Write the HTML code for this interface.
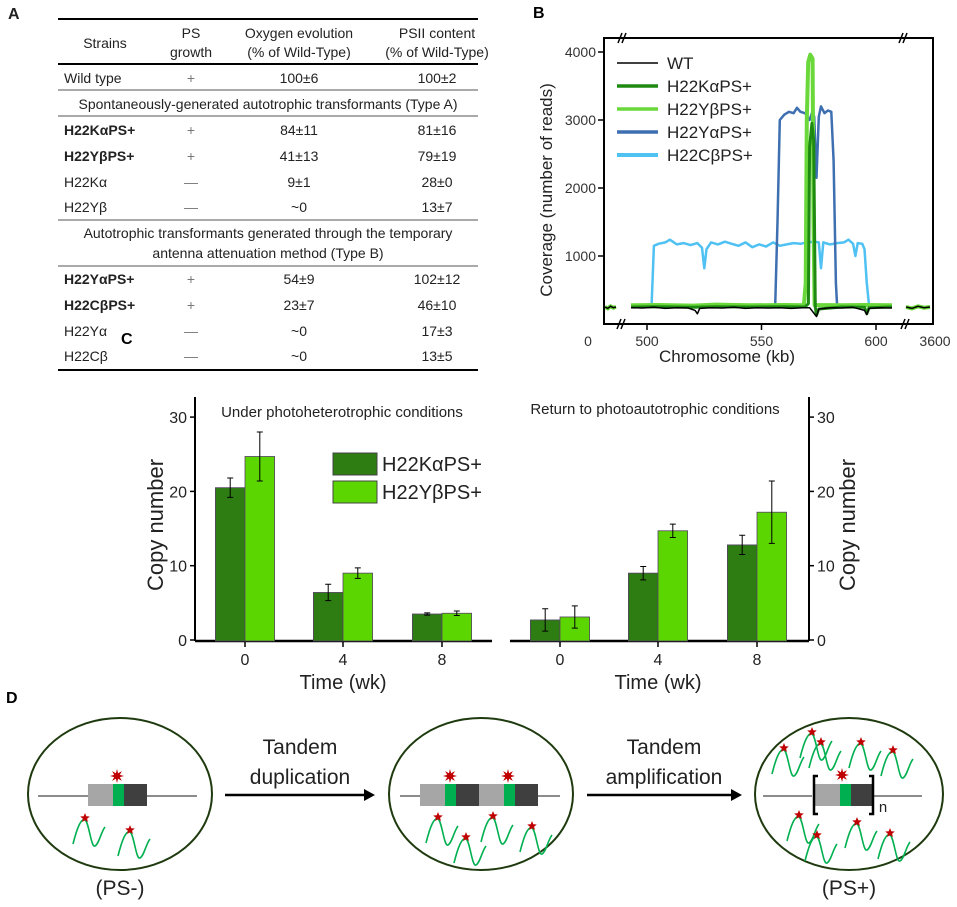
<!DOCTYPE html>
<html><head><meta charset="utf-8">
<style>
body{margin:0;background:#fff;}
svg text{font-family:"Liberation Sans","DejaVu Sans",sans-serif;}
</style></head>
<body>
<svg width="957" height="902" viewBox="0 0 957 902" xmlns="http://www.w3.org/2000/svg">
<!-- Panel A -->
<g id="panelA" font-size="14" fill="#222">
<text x="8" y="19" font-size="16" font-weight="bold">A</text>
<line x1="58" y1="19" x2="478" y2="19" stroke="#000" stroke-width="2"/>
<line x1="58" y1="64" x2="478" y2="64" stroke="#000" stroke-width="2"/>
<line x1="58" y1="90" x2="478" y2="90" stroke="#555" stroke-width="1"/>
<line x1="58" y1="116" x2="478" y2="116" stroke="#555" stroke-width="1"/>
<line x1="58" y1="220" x2="478" y2="220" stroke="#555" stroke-width="1"/>
<line x1="58" y1="266" x2="478" y2="266" stroke="#555" stroke-width="1"/>
<line x1="58" y1="370" x2="478" y2="370" stroke="#000" stroke-width="2"/>
<g text-anchor="middle">
<text x="105" y="48">Strains</text>
<text x="191" y="38">PS</text><text x="191" y="57">growth</text>
<text x="299" y="38">Oxygen evolution</text><text x="299" y="57">(% of Wild-Type)</text>
<text x="437" y="38">PSII content</text><text x="437" y="57">(% of Wild-Type)</text>
</g>
<g>
<text x="64" y="83">Wild type</text><text x="191" y="83" text-anchor="middle" fill="#777">+</text><text x="299" y="83" text-anchor="middle">100±6</text><text x="437" y="83" text-anchor="middle">100±2</text>
<text x="268" y="109" text-anchor="middle">Spontaneously-generated  autotrophic transformants (Type A)</text>
<text x="64" y="135" font-weight="bold">H22KαPS+</text><text x="191" y="135" text-anchor="middle" fill="#777">+</text><text x="299" y="135" text-anchor="middle">84±11</text><text x="437" y="135" text-anchor="middle">81±16</text>
<text x="64" y="161" font-weight="bold">H22YβPS+</text><text x="191" y="161" text-anchor="middle" fill="#777">+</text><text x="299" y="161" text-anchor="middle">41±13</text><text x="437" y="161" text-anchor="middle">79±19</text>
<text x="64" y="187">H22Kα</text><text x="191" y="187" text-anchor="middle" fill="#777">—</text><text x="299" y="187" text-anchor="middle">9±1</text><text x="437" y="187" text-anchor="middle">28±0</text>
<text x="64" y="212">H22Yβ</text><text x="191" y="212" text-anchor="middle" fill="#777">—</text><text x="299" y="212" text-anchor="middle">~0</text><text x="437" y="212" text-anchor="middle">13±7</text>
<text x="268" y="238" text-anchor="middle">Autotrophic transformants generated through the temporary</text>
<text x="268" y="258" text-anchor="middle">antenna attenuation method (Type B)</text>
<text x="64" y="284" font-weight="bold">H22YαPS+</text><text x="191" y="284" text-anchor="middle" fill="#777">+</text><text x="299" y="284" text-anchor="middle">54±9</text><text x="437" y="284" text-anchor="middle">102±12</text>
<text x="64" y="310" font-weight="bold">H22CβPS+</text><text x="191" y="310" text-anchor="middle" fill="#777">+</text><text x="299" y="310" text-anchor="middle">23±7</text><text x="437" y="310" text-anchor="middle">46±10</text>
<text x="64" y="336">H22Yα</text><text x="191" y="336" text-anchor="middle" fill="#777">—</text><text x="299" y="336" text-anchor="middle">~0</text><text x="437" y="336" text-anchor="middle">17±3</text>
<text x="64" y="361">H22Cβ</text><text x="191" y="361" text-anchor="middle" fill="#777">—</text><text x="299" y="361" text-anchor="middle">~0</text><text x="437" y="361" text-anchor="middle">13±5</text>
</g>
</g>

<!-- Panel B -->
<g id="panelB">
<text x="533" y="18" font-size="16" font-weight="bold">B</text>
<g id="bPlot"></g>
<rect x="604" y="38" width="329" height="286" fill="none" stroke="#000" stroke-width="2"/>
<g stroke="#000" stroke-width="1.5" fill="none">
<line x1="618" y1="43" x2="622" y2="33"/><line x1="622" y1="43" x2="626" y2="33"/>
<line x1="899" y1="43" x2="903" y2="33"/><line x1="903" y1="43" x2="907" y2="33"/>
<line x1="617" y1="329" x2="621" y2="319"/><line x1="621" y1="329" x2="625" y2="319"/>
<line x1="901" y1="329" x2="905" y2="319"/><line x1="905" y1="329" x2="909" y2="319"/>
</g>
<g id="bAxes" font-size="14" fill="#333"></g>
<text x="727" y="362" font-size="17" text-anchor="middle" fill="#222">Chromosome (kb)</text>
<text transform="translate(552,190) rotate(-90)" font-size="17" text-anchor="middle" fill="#222">Coverage (number of reads)</text>
<g id="bLegend" font-size="17" fill="#222"></g>
</g>

<!-- Panel C -->
<g id="panelC">
<text x="121" y="344" font-size="16" font-weight="bold">C</text>
<g id="cPlot"></g>
<text x="342" y="417" font-size="15" text-anchor="middle" fill="#222">Under photoheterotrophic conditions</text>
<text x="655" y="414" font-size="15" text-anchor="middle" fill="#222">Return to photoautotrophic conditions</text>
<text transform="translate(163,525) rotate(-90)" font-size="22" text-anchor="middle" fill="#222">Copy number</text>
<text transform="translate(855,525) rotate(-90)" font-size="22" text-anchor="middle" fill="#222">Copy number</text>
<text x="343" y="689" font-size="20" text-anchor="middle" fill="#222">Time (wk)</text>
<text x="658" y="689" font-size="20" text-anchor="middle" fill="#222">Time (wk)</text>
<g>
<rect x="333" y="453" width="44" height="22" fill="#2e7d12" stroke="#444"/>
<text x="382" y="471" font-size="20" fill="#222">H22KαPS+</text>
<rect x="333" y="481" width="44" height="22" fill="#5cd600" stroke="#444"/>
<text x="382" y="499" font-size="20" fill="#222">H22YβPS+</text>
</g>
</g>

<!-- Panel D -->
<g id="panelD">
<text x="6" y="703" font-size="16" font-weight="bold">D</text>
<ellipse cx="120" cy="794" rx="92" ry="76" fill="none" stroke="#1e3a0e" stroke-width="2"/>
<ellipse cx="481" cy="794" rx="92" ry="76" fill="none" stroke="#1e3a0e" stroke-width="2"/>
<ellipse cx="849" cy="794" rx="94" ry="76" fill="none" stroke="#1e3a0e" stroke-width="2"/>
<g><line x1="225" y1="795" x2="366" y2="795" stroke="#000" stroke-width="2.5"/><polygon points="375,795 364,789 364,801" fill="#000"/></g>
<g><line x1="587" y1="795" x2="733" y2="795" stroke="#000" stroke-width="2.5"/><polygon points="742,795 731,789 731,801" fill="#000"/></g>
<g font-size="21" text-anchor="middle" fill="#222">
<text x="300" y="754">Tandem</text><text x="300" y="784">duplication</text>
<text x="664" y="754">Tandem</text><text x="664" y="784">amplification</text>
<text x="120" y="895">(PS-)</text>
<text x="849" y="895">(PS+)</text>
<text x="883" y="812" font-size="15">n</text>
</g>
<g id="dGenes"></g>
</g>

<script>
var NS='http://www.w3.org/2000/svg';
function mk(tag,attrs,parent){var e=document.createElementNS(NS,tag);for(var k in attrs)e.setAttribute(k,attrs[k]);parent.appendChild(e);return e;}

/* ---------- Panel B data ---------- */
var bYTicks=[1000,2000,3000,4000];
var bXTicks=[500,550,600];
var wtReads=[[493,240],[498,235],[503,245],[508,230],[513,240],[518,235],[521,200],[522,150],[523,230],[528,240],[533,235],[538,245],[543,230],[548,240],[553,235],[558,240],[563,230],[568,240],[571,240],[574,110],[575,220],[580,240],[585,235],[590,245],[595,200],[596,140],[597,230],[602,240],[607,235]];
var kaReads=[[493,250],[505,255],[520,245],[530,255],[545,250],[560,255],[569,250],[570.5,300],[571,2600],[572,2950],[572.8,2700],[573.5,250],[574,130],[575,220],[585,250],[595,245],[596,150],[597,240],[607,250]];
var ybReads=[[493,275],[505,280],[520,270],[530,285],[545,275],[560,280],[568.5,275],[569.3,600],[569.8,3000],[570.4,3850],[571.3,3960],[572.3,3900],[572.7,1500],[573.2,280],[585,275],[595,280],[607,275]];
var yaReads=[[556,270],[557,1500],[558,3000],[560,3080],[562,3120],[564,3100],[565.5,3180],[567,3120],[569,3100],[570,3050],[571,3000],[572,3100],[573,3050],[574,2150],[575,3050],[576,3200],[577.5,3100],[579,3140],[580.5,3120],[581.5,2400],[582.5,600],[583,270]];
var cbReads=[[500,260],[502,280],[503,1150],[505,1180],[508,1200],[510,1240],[513,1170],[516,1190],[519,1160],[522,1190],[524,1120],[525,820],[526,1100],[528,1200],[531,1170],[534,1210],[537,1180],[540,1150],[543,1200],[546,1130],[549,1170],[552,1140],[555,1200],[558,1150],[561,1170],[564,1190],[567,1180],[570,1200],[573,1210],[575,1200],[576,820],[577,1200],[580,1170],[583,1190],[586,1200],[588,1240],[590,1180],[591,1000],[592,1190],[594,1180],[595,1100],[596,600],[597,270],[600,260]];
var stubReads=[250,230,260,240,250];
var legendNames=['WT','H22KαPS+','H22YβPS+','H22YαPS+','H22CβPS+'];

function bx(kb){return 647+(kb-500)*114.5/50;}
function by(r){return 324-r*0.068;}
var bPlot=document.getElementById('bPlot');
function bLine(data,color,w,name){
  var d=data.map(function(p,i){return (i?'L':'M')+bx(p[0]).toFixed(1)+','+by(p[1]).toFixed(1);}).join('');
  var e=mk('path',{d:d,fill:'none',stroke:color,'stroke-width':w,'stroke-linejoin':'round'},bPlot);
  
  
}
bLine(cbReads,'#4fc1f2',2.5,'series-h22cbps');
bLine(yaReads,'#3e6fb0',2.5,'series-h22yaps');
bLine(ybReads,'#6ad83a',4,'series-h22ybps');
bLine(kaReads,'#1f8a12',3,'series-h22kaps');
bLine(wtReads,'#000',1.5,'series-wt');
function stub(x0,x1){
  var d='';
  stubReads.forEach(function(r,i){var x=x0+(x1-x0)*i/(stubReads.length-1);d+=(i?'L':'M')+x.toFixed(1)+','+by(r).toFixed(1);});
  mk('path',{d:d,fill:'none',stroke:'#6ad83a','stroke-width':4},bPlot);
  var e=mk('path',{d:d,fill:'none',stroke:'#000','stroke-width':1.5},bPlot);
  
  
}
stub(605,616);stub(906,930);

var bAxes=document.getElementById('bAxes');
bYTicks.forEach(function(v){
  mk('line',{x1:598,x2:604,y1:by(v),y2:by(v),stroke:'#000','stroke-width':1.5},bAxes);
  var t=mk('text',{x:596,y:by(v)+5,'text-anchor':'end'},bAxes);t.textContent=v;
  
  
});
bXTicks.forEach(function(v){
  mk('line',{x1:bx(v),x2:bx(v),y1:324,y2:330,stroke:'#000','stroke-width':1.5},bAxes);
  var t=mk('text',{x:bx(v),y:346,'text-anchor':'middle'},bAxes);t.textContent=v;
  
  
});
[['0',588],['3600',935]].forEach(function(p){
  var t=mk('text',{x:p[1],y:346,'text-anchor':'middle'},bAxes);t.textContent=p[0];
  
  
});
var bLeg=document.getElementById('bLegend');
var legColors=['#000','#1f8a12','#6ad83a','#3e6fb0','#4fc1f2'];
var legWidths=[1.5,3.5,3.5,3.5,4];
legendNames.forEach(function(n,i){
  var y=63+i*23;
  mk('line',{x1:617,x2:658,y1:y,y2:y,stroke:legColors[i],'stroke-width':legWidths[i]},bLeg);
  var t=mk('text',{x:667,y:y+6},bLeg);t.textContent=n;
  
  
});

/* ---------- Panel C data ---------- */
var cWeeks=['0','4','8'];
var cTicks=[0,10,20,30];
var kaHetero=[20.5,6.4,3.5];
var kaHeteroErr=[1.3,1.1,0.15];
var ybHetero=[24.7,9.0,3.6];
var ybHeteroErr=[3.3,0.7,0.3];
var kaAuto=[2.7,9.0,12.8];
var kaAutoErr=[1.5,0.9,1.3];
var ybAuto=[3.1,14.7,17.2];
var ybAutoErr=[1.5,0.9,4.2];

function cy(v){return 640-v*7.43;}
var cPlot=document.getElementById('cPlot');
function panel(x0,x1,centers,ka,kaE,yb,ybE,tickSide,pref){
  mk('line',{x1:x0,x2:x1,y1:641,y2:641,stroke:'#000','stroke-width':2.5},cPlot);
  var ax=tickSide==='left'?x0:x1;
  mk('line',{x1:ax,x2:ax,y1:397,y2:641,stroke:'#000','stroke-width':2},cPlot);
  cTicks.forEach(function(v){
    var dx=tickSide==='left'?-5:5;
    mk('line',{x1:ax,x2:ax+dx,y1:cy(v),y2:cy(v),stroke:'#000','stroke-width':1.5},cPlot);
    var t=mk('text',{x:ax+(tickSide==='left'?-8:8),y:cy(v)+6,'font-size':16,'text-anchor':tickSide==='left'?'end':'start',fill:'#222'},cPlot);
    t.textContent=v;
    
    
  });
  centers.forEach(function(c,i){
    mk('line',{x1:c,x2:c,y1:641,y2:647,stroke:'#000','stroke-width':1.5},cPlot);
    var t=mk('text',{x:c,y:665,'font-size':16,'text-anchor':'middle',fill:'#222'},cPlot);t.textContent=cWeeks[i];
    
    
    [[ka,kaE,'#2e7d12',c-29.6,'kaps'],[yb,ybE,'#5cd600',c,'ybps']].forEach(function(s){
      var v=s[0][i],e=s[1][i];
      var r=mk('rect',{x:s[3],y:cy(v),width:29.6,height:641-cy(v),fill:s[2],stroke:'#554466','stroke-width':0.8},cPlot);
      
      
      var m=s[3]+14.8;
      var eb=mk('path',{d:'M'+m+','+cy(v+e)+'V'+cy(v-e)+'M'+(m-3)+','+cy(v+e)+'h6M'+(m-3)+','+cy(v-e)+'h6',stroke:'#000','stroke-width':1,fill:'none'},cPlot);
      
      
    });
  });
}
panel(195,492,[245,343,442],kaHetero,kaHeteroErr,ybHetero,ybHeteroErr,'left','hetero');
panel(510,809,[560,658,757],kaAuto,kaAutoErr,ybAuto,ybAutoErr,'right','auto');

/* ---------- Panel D ---------- */
var dG=document.getElementById('dGenes');
function lineSeg(x0,x1){mk('line',{x1:x0,x2:x1,y1:796,y2:796,stroke:'#666','stroke-width':1.5},dG);}
function block(x,w,c){mk('rect',{x:x,y:784,width:w,height:22,fill:c},dG);}
function gene(x){block(x,25,'#a6a6a6');block(x+25,11,'#00b050');block(x+36,23,'#3f3f3f');}
function burst(x,y){
  var d='';for(var i=0;i<16;i++){var a=i*Math.PI/8,r=i%2?3:7;d+=(i?'L':'M')+(x+r*Math.cos(a)).toFixed(1)+','+(y+r*Math.sin(a)).toFixed(1);}
  mk('path',{d:d+'Z',fill:'#c00000'},dG);
}
function star(x,y){
  var d='';for(var i=0;i<10;i++){var a=-Math.PI/2+i*Math.PI/5,r=i%2?2.2:5;d+=(i?'L':'M')+(x+r*Math.cos(a)).toFixed(1)+','+(y+r*Math.sin(a)).toFixed(1);}
  mk('path',{d:d+'Z',fill:'#c00000'},dG);
}
function squiggle(x,y){
  mk('path',{d:'M'+(x-12)+','+(y+26)+'C'+(x-8)+','+(y+10)+' '+(x-4)+','+y+' '+x+','+(y+2)+'C'+(x+4)+','+(y+4)+' '+(x+6)+','+(y+30)+' '+(x+10)+','+(y+28)+'C'+(x+14)+','+(y+26)+' '+(x+16)+','+(y+14)+' '+(x+20)+','+(y+9),fill:'none',stroke:'#00b050','stroke-width':1.6},dG);
  star(x,y);
}
lineSeg(38,197);gene(88);burst(117,776);
squiggle(85,818);squiggle(130,830);
lineSeg(400,560);gene(420);gene(479);burst(450,776);burst(508,776);
squiggle(438,817);squiggle(493,816);squiggle(532,826);squiggle(466,837);
lineSeg(763,922);mk('rect',{x:812,y:784,width:62,height:22,fill:'#fff'},dG);gene(815);burst(842,775);
mk('path',{d:'M818,776H814V814H818',fill:'none',stroke:'#000','stroke-width':2.5},dG);
mk('path',{d:'M869,776H873V814H869',fill:'none',stroke:'#000','stroke-width':2.5},dG);
[[784,748],[812,732],[821,742],[861,742],[893,750],[799,815],[817,835],[857,822],[890,833]].forEach(function(p){squiggle(p[0],p[1]);});
</script>
</svg>
</body></html>
